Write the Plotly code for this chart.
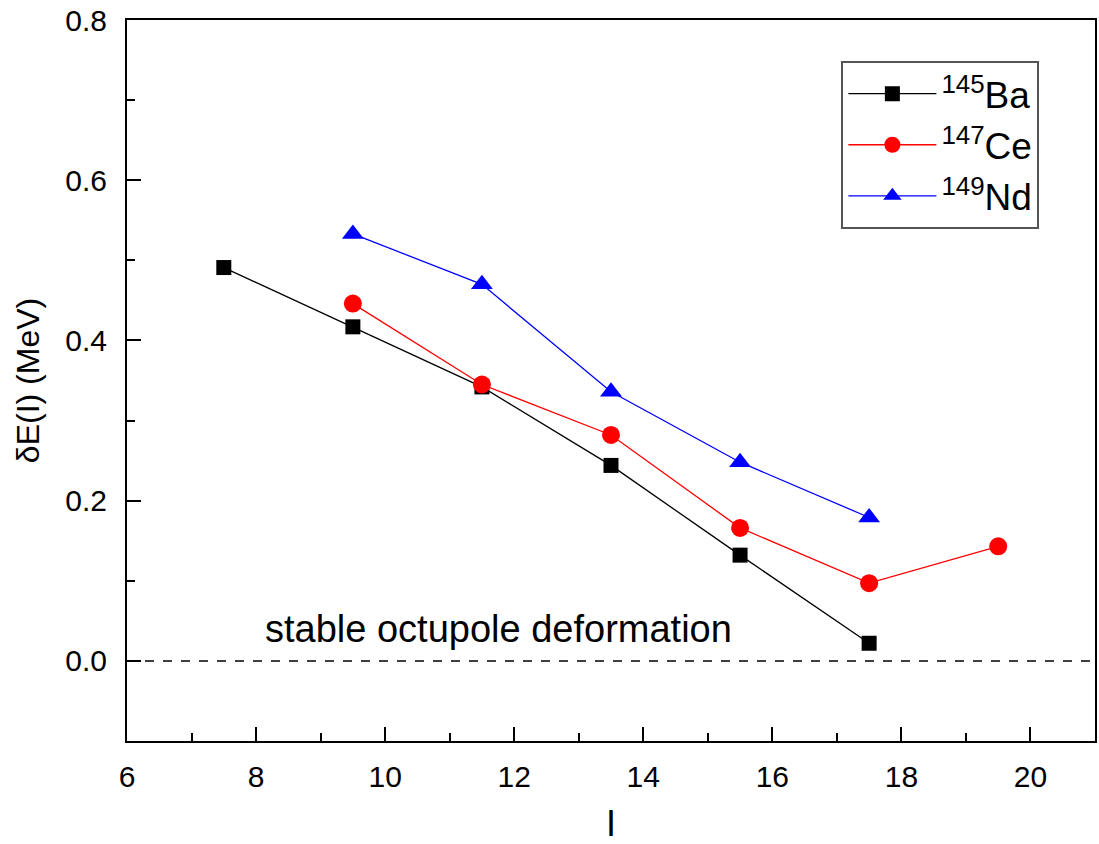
import plotly.graph_objects as go

ba_x = [7.5, 9.5, 11.5, 13.5, 15.5, 17.5]
ba_y = [0.491, 0.417, 0.342, 0.244, 0.132, 0.022]

ce_x = [9.5, 11.5, 13.5, 15.5, 17.5, 19.5]
ce_y = [0.446, 0.345, 0.282, 0.166, 0.097, 0.143]

nd_x = [9.5, 11.5, 13.5, 15.5, 17.5]
nd_y = [0.533, 0.470, 0.336, 0.248, 0.179]

x_ticks = [6, 8, 10, 12, 14, 16, 18, 20]
y_ticks = [0.0, 0.2, 0.4, 0.6, 0.8]
y_ticktext = ["0.0", "0.2", "0.4", "0.6", "0.8"]

FONT = "Liberation Sans, Arial, sans-serif"

fig = go.Figure()
fig.add_trace(go.Scatter(x=ba_x, y=ba_y, mode="lines+markers", name="<sup>145</sup>Ba",
                         line=dict(color="black", width=1.3),
                         marker=dict(symbol="square", size=15, color="black")))
fig.add_trace(go.Scatter(x=ce_x, y=ce_y, mode="lines+markers", name="<sup>147</sup>Ce",
                         line=dict(color="red", width=1.3),
                         marker=dict(symbol="circle", size=18, color="red")))
fig.add_trace(go.Scatter(x=nd_x, y=nd_y, mode="lines+markers", name="<sup>149</sup>Nd",
                         line=dict(color="blue", width=1.3),
                         marker=dict(symbol="triangle-up", size=19, color="blue")))

fig.add_shape(type="line", xref="x", yref="y", x0=6, x1=21, y0=0, y1=0,
              line=dict(color="black", width=1.5, dash="dash"))

fig.add_annotation(x=11.75, y=0.04, xref="x", yref="y", text="stable octupole deformation",
                   showarrow=False, font=dict(family=FONT, size=38, color="black"))

axis_common = dict(showline=True, linecolor="black", linewidth=2, mirror=True,
                   ticks="inside", ticklen=14, tickwidth=2, tickcolor="black",
                   showgrid=False, zeroline=False,
                   tickfont=dict(family=FONT, size=30, color="black"))

fig.update_xaxes(range=[6, 21], tickvals=x_ticks, ticklabelstandoff=8,
                 title=dict(text="I", font=dict(family=FONT, size=36), standoff=24),
                 minor=dict(ticks="inside", dtick=1, ticklen=8, tickwidth=2, tickcolor="black"),
                 **axis_common)
fig.update_yaxes(range=[-0.1, 0.8], tickvals=y_ticks, ticktext=y_ticktext, ticklabelstandoff=12,
                 title=dict(text="δE(I) (MeV)", font=dict(family=FONT, size=32), standoff=16),
                 minor=dict(ticks="inside", dtick=0.1, ticklen=8, tickwidth=2, tickcolor="black"),
                 **axis_common)

fig.update_layout(
    width=1099, height=844,
    margin=dict(l=127, r=2, t=20, b=101),
    plot_bgcolor="white", paper_bgcolor="white",
    font=dict(family=FONT, color="black"),
    showlegend=True,
    legend=dict(x=0.738, y=0.943, xanchor="left", yanchor="top",
                bgcolor="white", bordercolor="#555", borderwidth=2,
                font=dict(family=FONT, size=37), itemwidth=88,
                tracegroupgap=0),
)

fig.write_html("out.html")
